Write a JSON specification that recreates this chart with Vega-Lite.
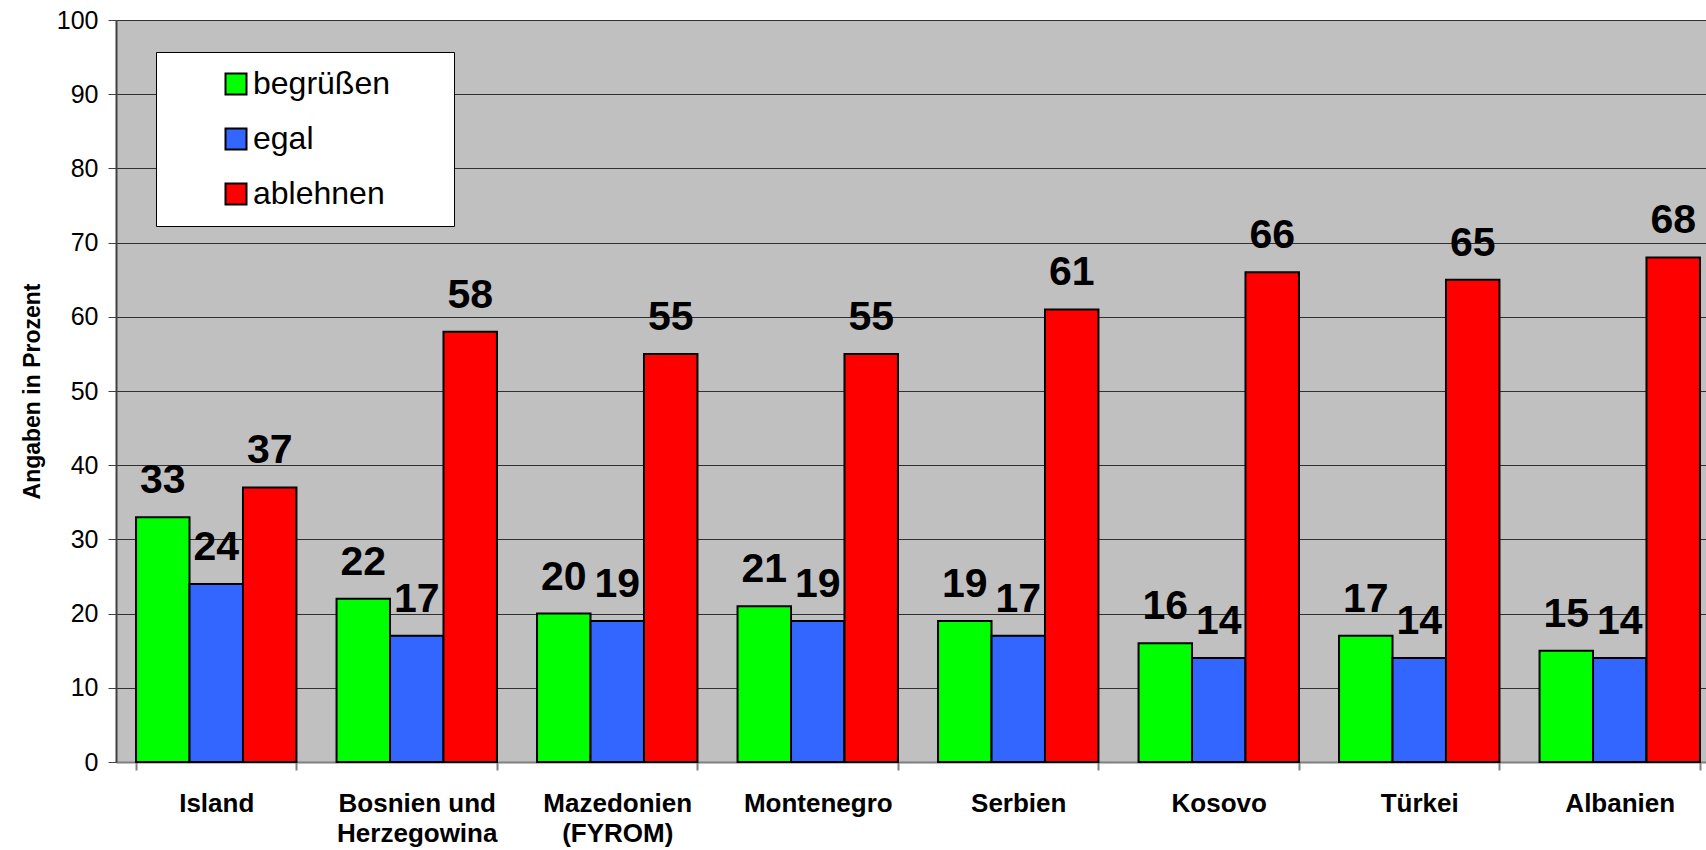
{
  "$schema": "https://vega.github.io/schema/vega-lite/v6.json",
  "width": 1590,
  "height": 742,
  "autosize": {"type": "none"},
  "padding": {"left": 116, "top": 20, "right": 0, "bottom": 88},
  "background": "white",
  "config": {
    "font": "Liberation Sans",
    "view": {"fill": "#C0C0C0", "stroke": null}
  },
  "data": {
    "values": [
      {"land": "Island", "antwort": "begrüßen", "prozent": 33},
      {"land": "Island", "antwort": "egal", "prozent": 24},
      {"land": "Island", "antwort": "ablehnen", "prozent": 37},
      {"land": "Bosnien und Herzegowina", "antwort": "begrüßen", "prozent": 22},
      {"land": "Bosnien und Herzegowina", "antwort": "egal", "prozent": 17},
      {"land": "Bosnien und Herzegowina", "antwort": "ablehnen", "prozent": 58},
      {"land": "Mazedonien (FYROM)", "antwort": "begrüßen", "prozent": 20},
      {"land": "Mazedonien (FYROM)", "antwort": "egal", "prozent": 19},
      {"land": "Mazedonien (FYROM)", "antwort": "ablehnen", "prozent": 55},
      {"land": "Montenegro", "antwort": "begrüßen", "prozent": 21},
      {"land": "Montenegro", "antwort": "egal", "prozent": 19},
      {"land": "Montenegro", "antwort": "ablehnen", "prozent": 55},
      {"land": "Serbien", "antwort": "begrüßen", "prozent": 19},
      {"land": "Serbien", "antwort": "egal", "prozent": 17},
      {"land": "Serbien", "antwort": "ablehnen", "prozent": 61},
      {"land": "Kosovo", "antwort": "begrüßen", "prozent": 16},
      {"land": "Kosovo", "antwort": "egal", "prozent": 14},
      {"land": "Kosovo", "antwort": "ablehnen", "prozent": 66},
      {"land": "Türkei", "antwort": "begrüßen", "prozent": 17},
      {"land": "Türkei", "antwort": "egal", "prozent": 14},
      {"land": "Türkei", "antwort": "ablehnen", "prozent": 65},
      {"land": "Albanien", "antwort": "begrüßen", "prozent": 15},
      {"land": "Albanien", "antwort": "egal", "prozent": 14},
      {"land": "Albanien", "antwort": "ablehnen", "prozent": 68}
    ]
  },
  "encoding": {
    "x": {
      "field": "land",
      "type": "nominal",
      "sort": null,
      "scale": {"range": [0, 1604], "paddingInner": 0.2, "paddingOuter": 0.1},
      "axis": {
        "title": null,
        "labelAngle": 0,
        "labelFont": "Liberation Sans",
        "labelFontWeight": "bold",
        "labelFontSize": 26,
        "labelColor": "black",
        "labelBaseline": "top",
        "labelPadding": 20,
        "labelLineHeight": 30,
        "labelExpr": "datum.label == 'Bosnien und Herzegowina' ? ['Bosnien und', 'Herzegowina'] : datum.label == 'Mazedonien (FYROM)' ? ['Mazedonien', '(FYROM)'] : datum.label",
        "tickBand": "extent",
        "tickSize": 8,
        "tickColor": "#808080",
        "tickWidth": 2,
        "domainColor": "#808080",
        "domainWidth": 2,
        "grid": false
      }
    },
    "xOffset": {
      "field": "antwort",
      "type": "nominal",
      "sort": ["begrüßen", "egal", "ablehnen"],
      "scale": {"paddingInner": 0, "paddingOuter": 0}
    },
    "y": {
      "field": "prozent",
      "type": "quantitative",
      "scale": {"domain": [0, 100], "nice": false},
      "axis": {
        "title": "Angaben in Prozent",
        "titleFont": "Liberation Sans",
        "titleFontWeight": "bold",
        "titleFontSize": 23,
        "titleColor": "black",
        "titlePadding": 12,
        "values": [0, 10, 20, 30, 40, 50, 60, 70, 80, 90, 100],
        "labelFont": "Liberation Sans",
        "labelFontSize": 25,
        "labelColor": "black",
        "labelPadding": 10,
        "tickSize": 8,
        "tickColor": "#404040",
        "domainColor": "#404040",
        "domainWidth": 2,
        "grid": true,
        "gridColor": "#303030",
        "gridWidth": 1,
        "gridOpacity": 1
      }
    }
  },
  "layer": [
    {
      "mark": {"type": "bar", "stroke": "black", "strokeWidth": 2},
      "encoding": {
        "color": {
          "field": "antwort",
          "type": "nominal",
          "scale": {
            "domain": ["begrüßen", "egal", "ablehnen"],
            "range": ["#00FF00", "#3366FF", "#FF0000"]
          },
          "legend": {
            "title": null,
            "orient": "none",
            "legendX": 40,
            "legendY": 32,
            "fillColor": "white",
            "strokeColor": "black",
            "padding": 16,
            "symbolType": "square",
            "symbolSize": 441,
            "symbolStrokeColor": "black",
            "symbolStrokeWidth": 2,
            "symbolOpacity": 1,
            "symbolOffset": 48,
            "labelFont": "Liberation Sans",
            "labelFontSize": 32,
            "labelColor": "black",
            "labelOffset": 1,
            "labelLimit": 500,
            "rowPadding": 23,
            "labelExpr": "datum.label == 'begrüßen' ? datum.label + '\u2003\u2002\u200B' : datum.label"
          }
        }
      }
    },
    {
      "mark": {
        "type": "text",
        "font": "Liberation Sans",
        "fontWeight": "bold",
        "fontSize": 41,
        "color": "black",
        "baseline": "alphabetic",
        "dy": -24
      },
      "encoding": {
        "text": {"field": "prozent", "type": "quantitative"}
      }
    }
  ]
}
